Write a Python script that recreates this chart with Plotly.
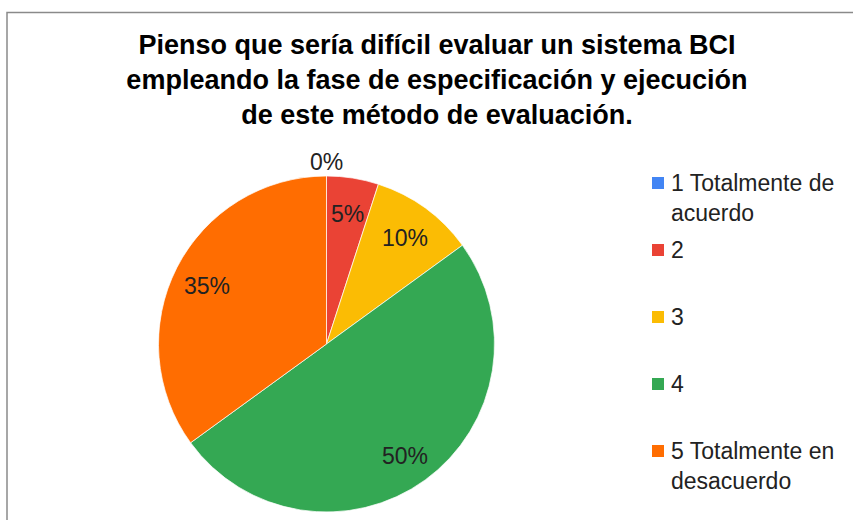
import math
import plotly.graph_objects as go

# Survey answers (percent of respondents)
categories = ["1 Totalmente de acuerdo", "2", "3", "4", "5 Totalmente en desacuerdo"]
legend_labels = ["1 Totalmente de<br>acuerdo", "2", "3", "4", "5 Totalmente en<br>desacuerdo"]
percentages = [0, 5, 10, 50, 35]
colors = ["#4285F4", "#EA4335", "#FBBC04", "#34A853", "#FF6D01"]

title_text = ("Pienso que sería difícil evaluar un sistema BCI<br>"
              "empleando la fase de especificación y ejecución<br>"
              "de este método de evaluación.")

W, H = 853, 520
# pie geometry in pixels
CX, CY, R = 326.5, 344.0, 168.0


def px(x):
    return x / W


def py(y):
    return 1 - y / H


fig = go.Figure()
fig.add_trace(go.Pie(
    labels=categories,
    values=percentages,
    marker=dict(colors=colors, line=dict(color="rgba(255,255,255,0.7)", width=1)),
    sort=False,
    direction="clockwise",
    rotation=0,
    textinfo="none",
    hoverinfo="label+percent",
    showlegend=False,
    domain=dict(x=[px(CX - R), px(CX + R)], y=[py(CY + R), py(CY - R)]),
))

annotations = []
total = sum(percentages)
cum = 0.0
for v in percentages:
    mid = 2 * math.pi * (cum + v / 2) / total
    f = 0.8 if v > 0 else 1.1
    x = CX + f * R * math.sin(mid)
    y = CY - f * R * math.cos(mid)
    annotations.append(dict(
        x=px(x), y=py(y + 3), xref="paper", yref="paper",
        text=f"{v / total * 100:.0f}%", showarrow=False,
        xanchor="center", yanchor="middle",
        font=dict(family="Liberation Sans, Arial, sans-serif", size=23, color="#222222"),
    ))
    cum += v

# custom legend on the right
shapes = []
LX, LY0, LSTEP, SQ = 652, 183, 67, 12
for i, (lab, col) in enumerate(zip(legend_labels, colors)):
    yc = LY0 + i * LSTEP
    shapes.append(dict(type="rect", xref="paper", yref="paper",
                       x0=px(LX), x1=px(LX + SQ), y0=py(yc + SQ / 2), y1=py(yc - SQ / 2),
                       fillcolor=col, line=dict(width=0)))
    annotations.append(dict(
        x=px(LX + 17), y=py(yc - 15), xref="paper", yref="paper",
        text=lab, showarrow=False, xanchor="left", yanchor="top", align="left",
        font=dict(family="Liberation Sans, Arial, sans-serif", size=23, color="#222222"),
    ))

# chart frame (top and left edges)
shapes.append(dict(type="path", xref="paper", yref="paper",
                   path=f"M {px(7)} {py(520)} L {px(7)} {py(12.5)} L {px(853)} {py(12.5)}",
                   line=dict(color="#8a8a8a", width=1.5)))

fig.update_layout(
    width=W, height=H,
    margin=dict(l=0, r=0, t=0, b=0),
    paper_bgcolor="white",
    plot_bgcolor="white",
    title=dict(
        text=title_text,
        x=437 / W, xanchor="center", xref="paper",
        y=1 - 54 / H, yanchor="middle", yref="container",
        font=dict(family="Liberation Sans, Arial, sans-serif", size=27, color="#000000",
                  weight="bold"),
    ),
    annotations=annotations,
    shapes=shapes,
)

fig.write_html("out.html")
